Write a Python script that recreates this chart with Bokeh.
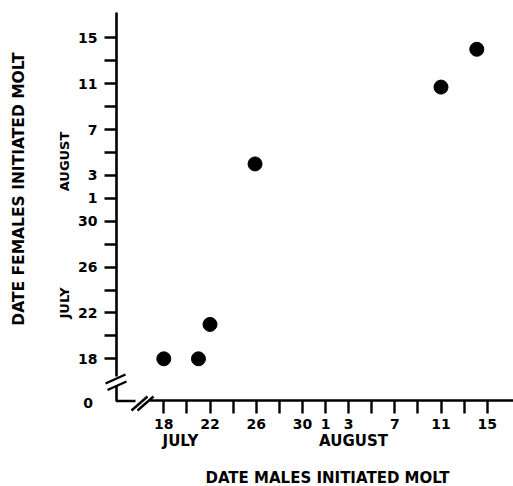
import math
from bokeh.plotting import figure
from bokeh.models import Range1d, FixedTicker, Label
from bokeh.embed import file_html
from bokeh.resources import INLINE

# ---- data (day numbers: July d -> d, August d -> 31 + d) ----
males_day = [18, 21, 22, 25.9, 42, 45.1]
females_day = [18, 18, 21, 35, 41.7, 45]

tick_days = [18, 20, 22, 24, 26, 28, 30, 32, 34, 36, 38, 40, 42, 44, 46]
tick_text = {18: "18", 22: "22", 26: "26", 30: "30", 32: "1", 34: "3",
             38: "7", 42: "11", 46: "15"}

FONT = "DejaVu Sans"
INK = "black"

p = figure(width=513, height=486,
           x_range=Range1d(3.861, 48.277), y_range=Range1d(6.861, 49.254),
           output_backend="svg", toolbar_location=None, min_border=0)
p.outline_line_color = None
p.grid.visible = False
p.background_fill_color = "white"
p.border_fill_color = "white"

X_AXIS_Y = 14.32   # where the x axis sits (female day units)
Y_AXIS_X = 13.905  # where the y axis sits (male day units)

overrides = {d: tick_text.get(d, "") for d in tick_days}
for ax in (p.xaxis[0], p.yaxis[0]):
    ax.ticker = FixedTicker(ticks=tick_days)
    ax.major_label_overrides = overrides
    ax.axis_line_width = 2.6
    ax.axis_line_color = INK
    ax.major_tick_line_width = 2.4
    ax.major_tick_line_color = INK
    ax.major_tick_in = 0
    ax.minor_tick_line_color = None
    ax.major_label_text_font = FONT
    ax.major_label_text_font_style = "bold"
    ax.major_label_text_font_size = "14px"
    ax.major_label_text_color = INK

p.xaxis.fixed_location = X_AXIS_Y
p.yaxis.fixed_location = Y_AXIS_X
p.xaxis.bounds = (16.76, 48.277)
p.yaxis.bounds = (16.46, 48.21)
p.xaxis.major_tick_out = 13
p.yaxis.major_tick_out = 12
p.xaxis.major_label_standoff = 5
p.yaxis.major_label_standoff = 7

# ---- axis break decorations ----
# lower stub of y axis and short stub of x axis (the "L")
p.line([Y_AXIS_X, Y_AXIS_X, 15.55], [15.68, X_AXIS_Y, X_AXIS_Y],
       line_width=2.6, line_color=INK)
# y break slashes
p.segment(x0=[12.952, 13.126], y0=[15.845, 15.278],
          x1=[14.684, 14.771], y1=[16.630, 16.020],
          line_width=2.4, line_color=INK)
# x break slashes
p.segment(x0=[15.203, 15.723], y0=[13.49, 13.49],
          x1=[16.589, 17.108], y1=[14.71, 14.71],
          line_width=2.4, line_color=INK)

# ---- data points ----
p.scatter(males_day, females_day, marker="circle", size=14,
          fill_color=INK, line_color=INK)

# ---- text ----
def lab(x, y, text, size, angle=0.0):
    p.add_layout(Label(x=x, y=y, text=text, text_font=FONT,
                       text_font_style="bold", text_font_size=size,
                       text_color=INK, text_align="center",
                       text_baseline="middle", angle=angle))

lab(5.42, 32.81, "DATE FEMALES INITIATED MOLT", "15.5px", math.pi / 2)
lab(9.41, 22.87, "JULY", "13px", math.pi / 2)
lab(9.41, 35.21, "AUGUST", "13px", math.pi / 2)
lab(11.446, 14.144, "0", "14px")
lab(19.446, 10.79, "JULY", "15px")
lab(34.424, 10.79, "AUGUST", "15px")
lab(32.173, 7.602, "DATE MALES INITIATED MOLT", "15px")

open("out.html", "w").write(file_html(p, INLINE))
